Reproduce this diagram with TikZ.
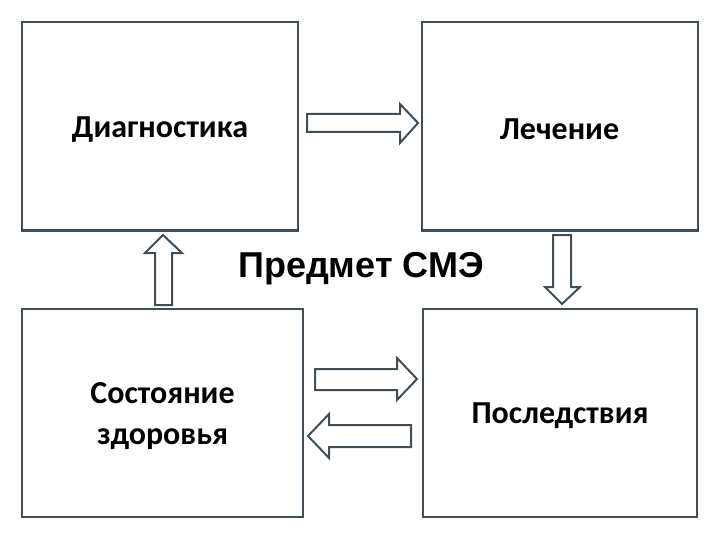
\documentclass[tikz,border=0pt]{standalone}
\usepackage{fontspec}
\setmainfont{Carlito}
\newfontfamily\titlefont{Liberation Sans}
\definecolor{boxline}{RGB}{62,78,90}
\newcommand{\sink}[1]{\raisebox{-3pt}[\height][\depth]{#1}}
\tikzset{
  stage/.style={draw=boxline, line width=2pt, minimum width=276pt, minimum height=208pt,
    inner sep=0pt, align=center, font=\bfseries\fontsize{32}{41}\selectfont},
  blockarrow/.style={draw=boxline, line width=2pt, fill=white, line join=miter}
}
\begin{document}
\begin{tikzpicture}[x=1pt,y=-1pt]
\useasboundingbox (0,0) rectangle (720,540);

\node[stage] (diag) at (160,126.5) {\sink{Диагностика}};
\node[stage] (treat) at (559.5,126.5) {\sink{Лечение}};
\node[stage, minimum width=281pt] (health) at (162.5,413) {\sink{Состояние}\\\sink{здоровья}};
\node[stage, minimum width=274pt] (result) at (560,413) {\sink{Последствия}};

\node[font=\titlefont\bfseries\fontsize{36}{43}\selectfont] (subject) at (361,269) {Предмет СМЭ};

% diagnostics -> treatment
\draw[blockarrow] (307,114) -- (400,114) -- (400,104) -- (418,123) -- (400,143)
  -- (400,132) -- (307,132) -- cycle;
% treatment -> consequences
\draw[blockarrow] (553,235) -- (571,235) -- (571,287) -- (580,287) -- (562,304)
  -- (545,287) -- (553,287) -- cycle;
% health -> diagnostics
\draw[blockarrow] (155,305) -- (172,305) -- (172,253) -- (182,253) -- (163,235)
  -- (145,253) -- (155,253) -- cycle;
% health <-> consequences
\draw[blockarrow] (315,369) -- (397,369) -- (397,358) -- (417,379) -- (397,400)
  -- (397,390) -- (315,390) -- cycle;
\draw[blockarrow] (411,425) -- (329,425) -- (329,414) -- (308,436) -- (329,458)
  -- (329,447) -- (411,447) -- cycle;
\end{tikzpicture}
\end{document}
